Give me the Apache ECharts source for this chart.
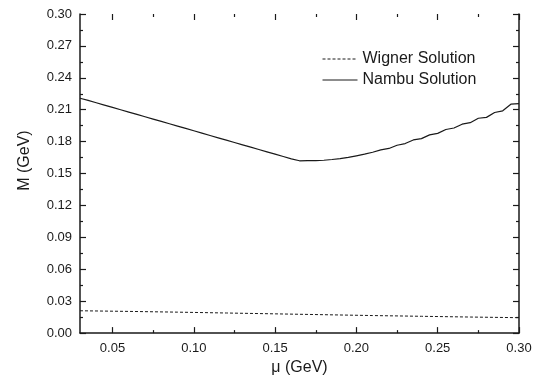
<!DOCTYPE html>
<html>
<head>
<meta charset="utf-8">
<script src="https://cdn.jsdelivr.net/npm/echarts@6/dist/echarts.min.js"></script>
<style>
  html, body { margin: 0; padding: 0; background: #fff; }
  #chart { width: 542px; height: 381px; }
</style>
</head>
<body>
<div id="chart"></div>
<script>
// mu values (GeV) for the Nambu curve
const muNambu = [
  0.030, 0.035, 0.040, 0.045, 0.050, 0.055, 0.060, 0.065, 0.070, 0.075,
  0.080, 0.085, 0.090, 0.095, 0.100, 0.105, 0.110, 0.115, 0.120, 0.125,
  0.130, 0.135, 0.140, 0.145, 0.150, 0.155, 0.160, 0.165, 0.170, 0.175,
  0.180, 0.185, 0.190, 0.195, 0.200, 0.205, 0.210, 0.215, 0.220, 0.225,
  0.230, 0.235, 0.240, 0.245, 0.250, 0.255, 0.260, 0.265, 0.270, 0.275,
  0.280, 0.285, 0.290, 0.295, 0.300
]
const nambu = [
  0.2208, 0.2188, 0.2166, 0.2144, 0.2122, 0.2100, 0.2078, 0.2056, 0.2034, 0.2012,
  0.1990, 0.1968, 0.1946, 0.1924, 0.1902, 0.1880, 0.1858, 0.1836, 0.1814, 0.1792,
  0.1770, 0.1748, 0.1726, 0.1704, 0.1682, 0.1660, 0.1638, 0.1620, 0.1621, 0.1622,
  0.1625, 0.1632, 0.1640, 0.1652, 0.1667, 0.1682, 0.1700, 0.1722, 0.1736, 0.1766,
  0.1782, 0.1816, 0.1828, 0.1864, 0.1878, 0.1914, 0.1928, 0.1964, 0.1978, 0.2020,
  0.2028, 0.2074, 0.2090, 0.2152, 0.2158
]
// Wigner curve
const muWigner = [0.030, 0.060, 0.090, 0.120, 0.150, 0.180, 0.210, 0.240, 0.270, 0.300]
const wigner = [0.0210, 0.0204, 0.0197, 0.0189, 0.0181, 0.0173, 0.0165, 0.0158, 0.0151, 0.0145]
// ticks
const xMajor = [0.05, 0.10, 0.15, 0.20, 0.25, 0.30]
const xMinor = [0.075, 0.125, 0.175, 0.225, 0.275]

const font = 'Liberation Sans, Arial, sans-serif'
const ink = '#1a1a1a'

const xBase = (pos, ticks, len, labels) => ({
  type: 'value',
  position: pos,
  min: 0.03,
  max: 0.30,
  axisLine: { show: labels, onZero: false, lineStyle: { color: ink, width: 1.5 } },
  axisTick: { show: true, inside: true, length: len, customValues: ticks, lineStyle: { color: ink, width: 1.2 } },
  axisLabel: labels ? {
    show: true, customValues: ticks, margin: 9, color: ink, fontSize: 13, fontFamily: font,
    formatter: (v) => v.toFixed(2)
  } : { show: false },
  splitLine: { show: false }
})

const yBase = (pos, labels) => ({
  type: 'value',
  position: pos,
  min: 0,
  max: 0.30,
  interval: 0.03,
  axisLine: { show: true, onZero: false, lineStyle: { color: ink, width: 1.5 } },
  axisTick: { show: true, inside: true, length: 6, lineStyle: { color: ink, width: 1.2 } },
  minorTick: { show: true, splitNumber: 2, length: 3, lineStyle: { color: ink, width: 1.2 } },
  axisLabel: labels ? {
    show: true, margin: 8, color: ink, fontSize: 13, fontFamily: font,
    formatter: (v) => v.toFixed(2)
  } : { show: false },
  splitLine: { show: false }
})

const chart = echarts.init(document.getElementById('chart'))
const xMain = xBase('bottom', xMajor, 6, true)
xMain.name = 'μ (GeV)'
xMain.nameLocation = 'middle'
xMain.nameGap = 23
xMain.nameTextStyle = { color: ink, fontSize: 16, fontFamily: font }
const yMain = yBase('left', true)
yMain.name = 'M (GeV)'
yMain.nameLocation = 'middle'
yMain.nameGap = 47
// pushes the title up a little, as in the original
yMain.nameTextStyle = { color: ink, fontSize: 16, fontFamily: font, padding: [0, 0, 0, 26] }

chart.setOption({
  animation: false,
  backgroundColor: '#fff',
  grid: { left: 80, right: 23, top: 14, bottom: 45 },
  legend: {
    orient: 'vertical',
    left: 317,
    top: 46,
    itemWidth: 35,
    itemHeight: 14,
    itemGap: 5,
    itemStyle: { opacity: 0 },
    lineStyle: { width: 1 },
    textStyle: { color: ink, fontSize: 16, fontFamily: font },
    data: ['Wigner Solution', 'Nambu Solution']
  },
  xAxis: [
    xMain,
    xBase('bottom', xMinor, 3, false),
    xBase('top', xMajor, 6, false),
    xBase('top', xMinor, 3, false)
  ],
  yAxis: [yMain, yBase('right', false)],
  series: [
    {
      name: 'Wigner Solution',
      type: 'line',
      symbol: 'none',
      color: ink,
      lineStyle: { color: ink, width: 1, type: [3, 2] },
      data: muWigner.map((m, i) => [m, wigner[i]])
    },
    {
      name: 'Nambu Solution',
      type: 'line',
      symbol: 'none',
      color: ink,
      lineStyle: { color: ink, width: 1.2 },
      data: muNambu.map((m, i) => [m, nambu[i]])
    }
  ]
})
</script>
</body>
</html>
